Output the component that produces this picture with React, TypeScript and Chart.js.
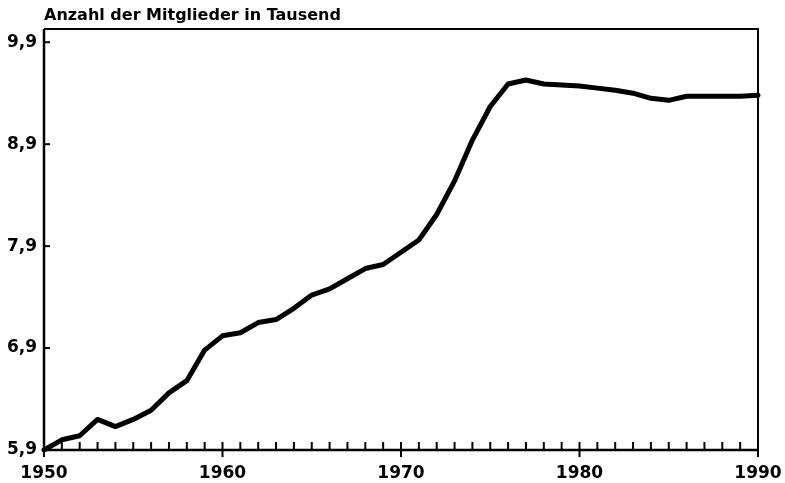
import React, { useEffect, useRef } from "react";
import { Chart, registerables } from "chart.js";

Chart.register(...registerables);

const years = [
  1950, 1951, 1952, 1953, 1954, 1955, 1956, 1957, 1958, 1959,
  1960, 1961, 1962, 1963, 1964, 1965, 1966, 1967, 1968, 1969,
  1970, 1971, 1972, 1973, 1974, 1975, 1976, 1977, 1978, 1979,
  1980, 1981, 1982, 1983, 1984, 1985, 1986, 1987, 1988, 1989,
  1990,
];
const members = [
  5.9, 6.0, 6.04, 6.2, 6.13, 6.2, 6.29, 6.46, 6.58, 6.88,
  7.02, 7.05, 7.15, 7.18, 7.29, 7.42, 7.48, 7.58, 7.68, 7.72,
  7.84, 7.96, 8.21, 8.54, 8.94, 9.27, 9.49, 9.53, 9.49, 9.48,
  9.47, 9.45, 9.43, 9.4, 9.35, 9.33, 9.37, 9.37, 9.37, 9.37,
  9.38,
];
const yTickValues = [5.9, 6.9, 7.9, 8.9, 9.9];
const xTickValues = [1950, 1960, 1970, 1980, 1990];
const titleText = "Anzahl der Mitglieder in Tausend";
const fontFamily = "'DejaVu Sans', sans-serif";

const framePlugin = {
  id: "frame",
  afterDraw(chart: any) {
    const { ctx, chartArea: a, scales } = chart;
    ctx.save();
    ctx.strokeStyle = "#000";
    ctx.fillStyle = "#000";
    ctx.lineCap = "butt";
    // top & right
    ctx.lineWidth = 2;
    ctx.beginPath();
    ctx.moveTo(a.left, a.top);
    ctx.lineTo(a.right, a.top);
    ctx.lineTo(a.right, a.bottom);
    ctx.stroke();
    // left & bottom
    ctx.lineWidth = 2.5;
    ctx.beginPath();
    ctx.moveTo(a.left, a.top);
    ctx.lineTo(a.left, a.bottom);
    ctx.lineTo(a.right, a.bottom);
    ctx.stroke();
    // y ticks (inward)
    ctx.lineWidth = 2;
    yTickValues.forEach((v) => {
      const y = scales.y.getPixelForValue(v);
      ctx.beginPath();
      ctx.moveTo(a.left, y);
      ctx.lineTo(a.left + 6, y);
      ctx.stroke();
    });
    // x ticks
    years.forEach((yr) => {
      const x = scales.x.getPixelForValue(yr);
      const major = xTickValues.includes(yr);
      ctx.beginPath();
      ctx.moveTo(x, a.bottom - 8);
      ctx.lineTo(x, major ? a.bottom + 7 : a.bottom);
      ctx.stroke();
    });
    // title
    ctx.font = `bold 16px ${fontFamily}`;
    ctx.textBaseline = "alphabetic";
    ctx.textAlign = "left";
    ctx.fillText(titleText, a.left, 20);
    ctx.restore();
  },
};

export default function App() {
  const ref = useRef<HTMLCanvasElement | null>(null);
  useEffect(() => {
    if (!ref.current) return;
    const chart = new Chart(ref.current, {
      type: "line",
      data: {
        datasets: [
          {
            data: years.map((x, i) => ({ x, y: members[i] })),
            borderColor: "#000",
            borderWidth: 5,
            pointRadius: 0,
            tension: 0,
            clip: false as any,
            borderCapStyle: "round",
            borderJoinStyle: "round",
          },
        ],
      },
      options: {
        responsive: false,
        animation: false,
        layout: { padding: { left: 0, right: 27, top: 29, bottom: 0 } },
        plugins: { legend: { display: false }, tooltip: { enabled: false }, title: { display: false } },
        scales: {
          x: {
            type: "linear",
            min: 1950,
            max: 1990,
            afterBuildTicks: (s: any) => {
              s.ticks = xTickValues.map((value) => ({ value }));
            },
            afterFit: (s: any) => {
              s.height = 33;
              s.paddingLeft = 0;
              s.paddingRight = 0;
            },
            grid: { display: false, drawTicks: false },
            border: { display: false },
            ticks: {
              color: "#000",
              padding: 13,
              maxRotation: 0,
              font: { family: fontFamily, size: 17, weight: "bold" },
              callback: (v: any) => String(v),
            },
          },
          y: {
            type: "linear",
            min: 5.9,
            max: 10.03,
            afterBuildTicks: (s: any) => {
              s.ticks = yTickValues.map((value) => ({ value }));
            },
            afterFit: (s: any) => {
              s.width = 44;
              s.paddingTop = 0;
              s.paddingBottom = 0;
            },
            grid: { display: false, drawTicks: false },
            border: { display: false },
            ticks: {
              color: "#000",
              padding: 7,
              font: { family: fontFamily, size: 17, weight: "bold" },
              callback: (v: any) => Number(v).toFixed(1).replace(".", ","),
            },
          },
        },
      },
      plugins: [framePlugin],
    });
    return () => chart.destroy();
  }, []);
  return (
    <div style={{ position: "fixed", left: 0, top: 0, width: 785, height: 483, background: "#fff" }}>
      <canvas ref={ref} width={785} height={483} />
    </div>
  );
}
